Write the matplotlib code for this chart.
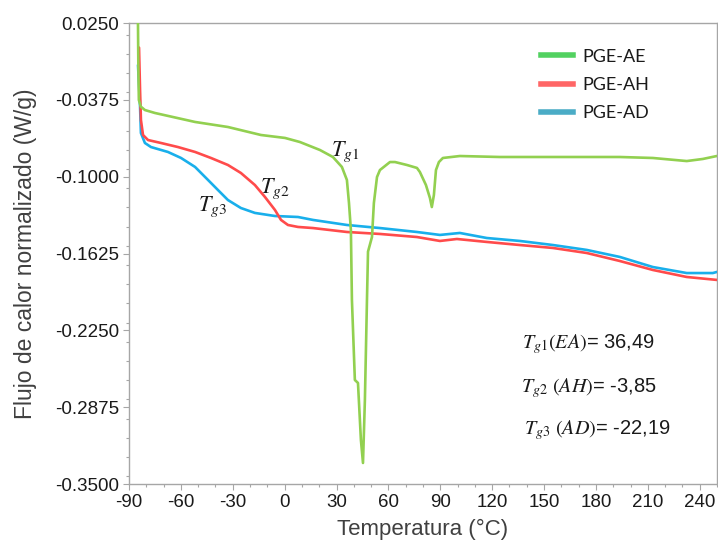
import matplotlib
matplotlib.use("Agg")
import matplotlib.pyplot as plt
from matplotlib.lines import Line2D
from matplotlib.ticker import MultipleLocator, FormatStrFormatter

plt.rcParams['axes.unicode_minus'] = False
plt.rcParams['mathtext.fontset'] = 'stix'
plt.rcParams['font.family'] = ['Liberation Sans', 'DejaVu Sans']

# ---- data ----
ae_T = [-85.0, -84.8, -84.6, -84.3, -83.2, -80.8, -75.0, -51.8, -32.8, -13.7, 0.2, 8.8, 20.4,
        27.9, 33.1, 36.0, 37.2, 38.3, 38.9, 40.6, 42.4, 44.1, 45.3, 46.4, 47.6, 48.2, 50.5, 51.6,
        53.4, 55.1, 60.9, 63.8, 70.7, 76.5, 78.2, 81.7, 84.0, 85.1, 86.3, 87.5, 89.2, 91.5, 101.3,
        124.5, 153.4, 193.8, 212.9, 232.5, 241.8, 249.9]
ae_v = [0.030, 0.0234, -0.010, -0.0376, -0.0430, -0.0458, -0.0482, -0.0555, -0.0596, -0.0661,
        -0.0685, -0.0718, -0.0783, -0.0840, -0.0921, -0.1027, -0.1214, -0.1434, -0.2003, -0.2654,
        -0.2678, -0.3142, -0.3329, -0.2817, -0.2003, -0.1610, -0.1491, -0.1214, -0.1003, -0.0946,
        -0.0881, -0.0881, -0.0905, -0.0929, -0.0962, -0.1068, -0.1173, -0.1247, -0.1149, -0.0946,
        -0.0881, -0.0848, -0.0832, -0.0840, -0.0840, -0.0840, -0.0848, -0.0873, -0.0856, -0.0832]

ah_T = [-84.2, -83.6, -83.1, -81.9, -79.0, -71.5, -61.7, -51.8, -42.6, -32.8, -25.3, -17.2, -11.4,
        -5.6, -2.1, 1.9, 7.7, 16.4, 36.0, 55.1, 76.5, 89.8, 99.6, 116.9, 136.0, 155.1, 174.7,
        193.8, 212.9, 232.5, 249.9]
ah_v = [0.005, -0.030, -0.0539, -0.0661, -0.0702, -0.0726, -0.0759, -0.0799, -0.0848, -0.0905,
        -0.0970, -0.1068, -0.1165, -0.1271, -0.1352, -0.1393, -0.1409, -0.1418, -0.1450, -0.1466,
        -0.1491, -0.1523, -0.1507, -0.1531, -0.1556, -0.1580, -0.1621, -0.1686, -0.1759, -0.1816,
        -0.1840]

ad_T = [-84.8, -83.6, -83.1, -80.8, -77.3, -67.5, -59.9, -51.8, -44.3, -38.6, -32.8, -25.3, -17.2,
        -5.6, 7.7, 16.4, 36.0, 55.1, 76.5, 89.8, 101.3, 116.9, 136.0, 155.1, 174.7, 193.8, 212.9,
        232.5, 247.6, 249.9]
ad_v = [-0.0092, -0.0433, -0.0645, -0.0726, -0.0759, -0.0799, -0.0848, -0.0921, -0.1027, -0.1108,
        -0.1190, -0.1255, -0.1295, -0.1320, -0.1328, -0.1352, -0.1393, -0.1418, -0.1450, -0.1474,
        -0.1458, -0.1499, -0.1523, -0.1556, -0.1596, -0.1653, -0.1735, -0.1784, -0.1784, -0.1775]

series_names = ['PGE-AE', 'PGE-AH', 'PGE-AD']
line_colors = ['#92D050', '#FF4B4B', '#19AFEB']
legend_colors = ['#52D160', '#FF6666', '#4BACC6']

tg_labels = [r'$T_{g1}$', r'$T_{g2}$', r'$T_{g3}$']
tg_pos_T = [34.9, -5.6, -42.0]
tg_pos_v = [-0.0800, -0.1100, -0.1245]

tg_names = [r'$T_{g1}(EA)$', r'$T_{g2}\ (AH)$', r'$T_{g3}\ (AD)$']
tg_values = ['36,49', '-3,85', '-22,19']

xticks = list(range(-90, 241, 30))
yticks = [0.0250, -0.0375, -0.1000, -0.1625, -0.2250, -0.2875, -0.3500]

# ---- figure ----
fig = plt.figure(figsize=(7.18, 5.45), dpi=100)
ax = fig.add_axes([129/718, 1 - 484/545, (717 - 129)/718, (484 - 23)/545])

# draw order: blue, red, green on top
for T, v, c, z in zip([ad_T, ah_T, ae_T], [ad_v, ah_v, ae_v],
                      [line_colors[2], line_colors[1], line_colors[0]], [3, 4, 5]):
    ax.plot(T, v, color=c, lw=1.9, solid_joinstyle='round', solid_capstyle='round', zorder=z)

ax.set_xlim(-90, 250)
ax.set_ylim(-0.35, 0.025)
ax.set_xticks(xticks)
ax.set_yticks(yticks)
ax.xaxis.set_minor_locator(MultipleLocator(10))
ax.yaxis.set_minor_locator(MultipleLocator(0.015625))
ax.yaxis.set_major_formatter(FormatStrFormatter('%.4f'))

for s in ax.spines.values():
    s.set_color('#A6A6A6')
    s.set_linewidth(1.0)
ax.tick_params(which='major', direction='out', length=4, width=0.8, color='#A6A6A6',
               labelsize=13.5, labelcolor='#1A1A1A', pad=3)
ax.tick_params(which='minor', direction='out', length=2.5, width=0.8, color='#A6A6A6')

ax.set_xlabel('Temperatura (°C)', fontsize=16, color='#404040', labelpad=6)
ax.set_ylabel('Flujo de calor normalizado (W/g)', fontsize=16.5, color='#404040', labelpad=13)

# Tg labels on curves
for lab, x, y in zip(tg_labels, tg_pos_T, tg_pos_v):
    ax.text(x, y, lab, fontsize=16, ha='center', va='center', color='#1A1A1A')

# Tg value block
ys = [0.303, 0.208, 0.117]
xs = [0.669, 0.666, 0.671]
for nm, val, x, y in zip(tg_names, tg_values, xs, ys):
    ax.text(x, y, nm + '= ' + val, transform=ax.transAxes, fontsize=14.5,
            ha='left', va='center', color='#1A1A1A')

handles = [Line2D([], [], color=c, lw=4) for c in legend_colors]
leg = ax.legend(handles, series_names, loc='upper left', bbox_to_anchor=(0.701, 0.944),
                frameon=False, borderpad=0, borderaxespad=0, handlelength=1.75,
                handletextpad=0.55, labelspacing=0.67,
                prop={'family': 'Lato', 'size': 13})
for t in leg.get_texts():
    t.set_color('#1A1A1A')

fig.savefig('out.png', dpi=100)
